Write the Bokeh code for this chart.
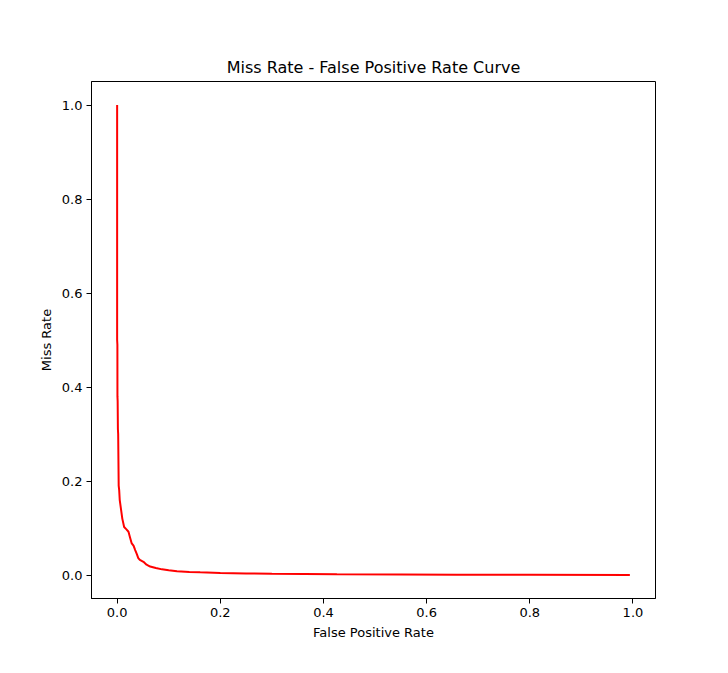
from bokeh.plotting import figure
from bokeh.models import Range1d, FixedTicker, PrintfTickFormatter
from bokeh.embed import file_html
from bokeh.resources import INLINE

fpr = [0.0, 0.0, 0.0005, 0.0006, 0.001, 0.0015, 0.002, 0.003, 0.004, 0.005, 0.007,
       0.010, 0.0136, 0.018, 0.022, 0.025, 0.028, 0.032, 0.035, 0.038, 0.041, 0.044,
       0.051, 0.057, 0.064, 0.075, 0.087, 0.10, 0.116, 0.14, 0.161, 0.2, 0.25, 0.30,
       0.426, 0.55, 0.658, 0.8, 0.994]
miss = [1.0, 0.50, 0.49, 0.38, 0.37, 0.31, 0.30, 0.19, 0.18, 0.16, 0.144,
        0.12, 0.102, 0.097, 0.092, 0.08, 0.068, 0.062, 0.053, 0.045, 0.036, 0.032,
        0.028, 0.022, 0.018, 0.015, 0.012, 0.010, 0.008, 0.0065, 0.0057, 0.0045, 0.0032, 0.0025,
        0.0015, 0.001, 0.0007, 0.0004, 0.0]
ticks = [0.0, 0.2, 0.4, 0.6, 0.8, 1.0]

FONT = "DejaVu Sans"

p = figure(width=728, height=673, output_backend="svg", toolbar_location=None,
           x_range=Range1d(-0.0497, 1.0437), y_range=Range1d(-0.05, 1.05),
           title="Miss Rate - False Positive Rate Curve",
           min_border_left=91, min_border_right=73, min_border_top=81, min_border_bottom=75)

p.line(fpr, miss, color="red", line_width=2)

p.title.align = "center"
p.title.text_font = FONT
p.title.text_font_size = "16px"
p.title.text_font_style = "normal"
p.title.text_color = "black"
p.title.standoff = 9

p.xgrid.visible = False
p.ygrid.visible = False
p.outline_line_color = "black"
p.outline_line_width = 1
p.outline_line_alpha = 1
p.background_fill_color = "white"
p.border_fill_color = "white"

for ax in (p.xaxis[0], p.yaxis[0]):
    ax.ticker = FixedTicker(ticks=ticks)
    ax.formatter = PrintfTickFormatter(format="%.1f")
    ax.major_label_text_font = FONT
    ax.major_label_text_font_size = "13px"
    ax.major_label_text_color = "black"
    ax.axis_label_text_font = FONT
    ax.axis_label_text_font_size = "13px"
    ax.axis_label_text_font_style = "normal"
    ax.axis_label_text_color = "black"
    ax.major_tick_out = 5
    ax.major_tick_in = 0
    ax.minor_tick_out = 0
    ax.minor_tick_in = 0
    ax.major_tick_line_color = "black"
    ax.axis_line_color = "black"
    ax.major_label_standoff = 4

p.xaxis.axis_label = "False Positive Rate"
p.yaxis.axis_label = "Miss Rate"
p.yaxis.major_label_orientation = "horizontal"

open("out.html", "w").write(file_html(p, INLINE))
